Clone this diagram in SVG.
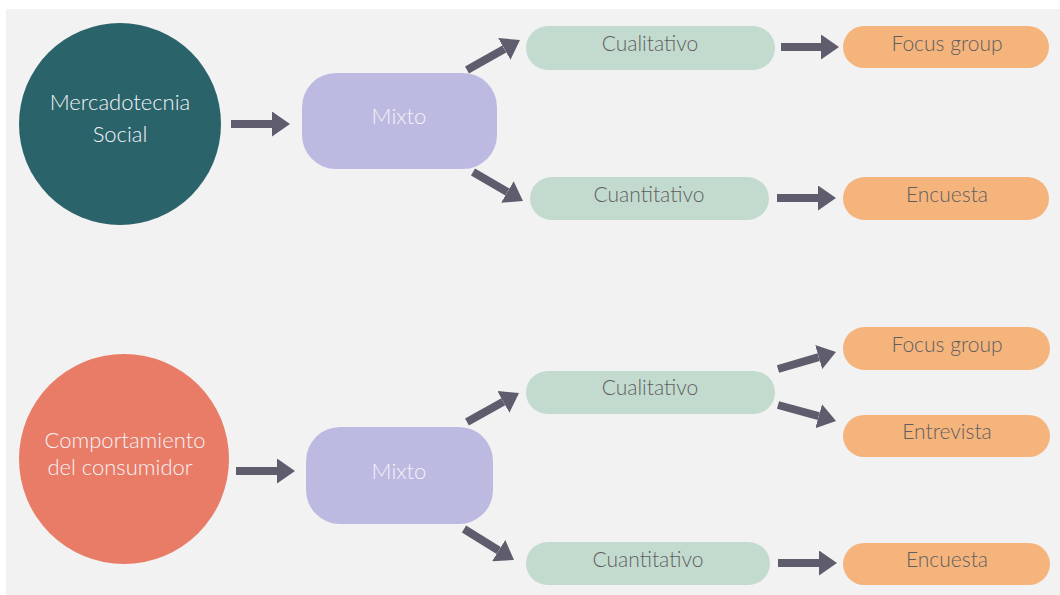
<svg xmlns="http://www.w3.org/2000/svg" width="1060" height="595" viewBox="0 0 1060 595">
<style>
.t{font-family:Lato,"Open Sans","Liberation Sans",sans-serif;font-size:21px;text-anchor:middle;font-weight:300}
.big{font-size:22px}
.lt{fill:#f4f3f8}
.dk{fill:#5f5f5f}
.mix{fill:#bdbae2}
.q{fill:#c3dbcf}
.o{fill:#f5b47c}
.c line{stroke:#5f5d6d;stroke-width:8;marker-end:url(#ah)}
</style>
<defs>
<marker id="ah" viewBox="0 0 18 25" markerWidth="18" markerHeight="25" refX="0" refY="12.5" markerUnits="userSpaceOnUse" orient="auto">
<path d="M0,0 L18,12.5 L0,25 Z" fill="#5f5d6d"/>
</marker>
</defs>
<rect x="0" y="0" width="1060" height="595" fill="#ffffff"/>
<rect x="6" y="9" width="1054" height="586" fill="#f2f2f2"/>
<g id="n-mercadotecnia">
<circle cx="120" cy="124" r="101" fill="#2a6369"/>
<text class="t big lt" x="120" y="110">Mercadotecnia</text>
<text class="t big lt" x="120" y="142">Social</text>
</g>
<g id="n-comportamiento">
<circle cx="124" cy="459" r="105" fill="#e97c66"/>
<text class="t big lt" x="125" y="448">Comportamiento</text>
<text class="t big lt" x="120" y="475">del consumidor</text>
</g>
<g id="n-mixto1">
<rect class="mix" x="302" y="73" width="195" height="96" rx="34"/>
<text class="t big lt" x="399" y="124">Mixto</text>
</g>
<g id="n-mixto2">
<rect class="mix" x="306" y="427" width="187" height="97" rx="34"/>
<text class="t big lt" x="399" y="479">Mixto</text>
</g>
<g id="n-cual1">
<rect class="q" x="526" y="26" width="249" height="44" rx="22"/>
<text class="t dk" x="650" y="51">Cualitativo</text>
</g>
<g id="n-cuan1">
<rect class="q" x="530" y="177" width="239" height="43" rx="21.5"/>
<text class="t dk" x="649" y="202">Cuantitativo</text>
</g>
<g id="n-focus1">
<rect class="o" x="843" y="26" width="206" height="42" rx="21"/>
<text class="t dk" x="947" y="51">Focus group</text>
</g>
<g id="n-encuesta1">
<rect class="o" x="843" y="177" width="206" height="43" rx="21.5"/>
<text class="t dk" x="947" y="202">Encuesta</text>
</g>
<g id="n-cual2">
<rect class="q" x="526" y="371" width="249" height="43" rx="21.5"/>
<text class="t dk" x="650" y="395">Cualitativo</text>
</g>
<g id="n-cuan2">
<rect class="q" x="526" y="542" width="244" height="43" rx="21.5"/>
<text class="t dk" x="648" y="567">Cuantitativo</text>
</g>
<g id="n-focus2">
<rect class="o" x="843" y="327" width="207" height="43" rx="21.5"/>
<text class="t dk" x="947" y="352">Focus group</text>
</g>
<g id="n-entrevista">
<rect class="o" x="843" y="415" width="207" height="42" rx="21"/>
<text class="t dk" x="947" y="439">Entrevista</text>
</g>
<g id="n-encuesta2">
<rect class="o" x="843" y="543" width="207" height="42" rx="21"/>
<text class="t dk" x="947" y="567">Encuesta</text>
</g>
<g id="connectors" class="c">
<line x1="231" y1="124" x2="272" y2="124"/>
<line x1="236" y1="471" x2="277" y2="471"/>
<line x1="467" y1="70" x2="504.3" y2="48.9"/>
<line x1="473" y1="172" x2="507.4" y2="192"/>
<line x1="781" y1="47" x2="821" y2="47"/>
<line x1="777" y1="198" x2="818" y2="198"/>
<line x1="467" y1="422" x2="503.3" y2="401.8"/>
<line x1="464" y1="529" x2="498.7" y2="550.5"/>
<line x1="778" y1="369" x2="818.7" y2="357.1"/>
<line x1="778" y1="405" x2="818.7" y2="416.2"/>
<line x1="778" y1="563" x2="819" y2="563"/>
</g>
</svg>
